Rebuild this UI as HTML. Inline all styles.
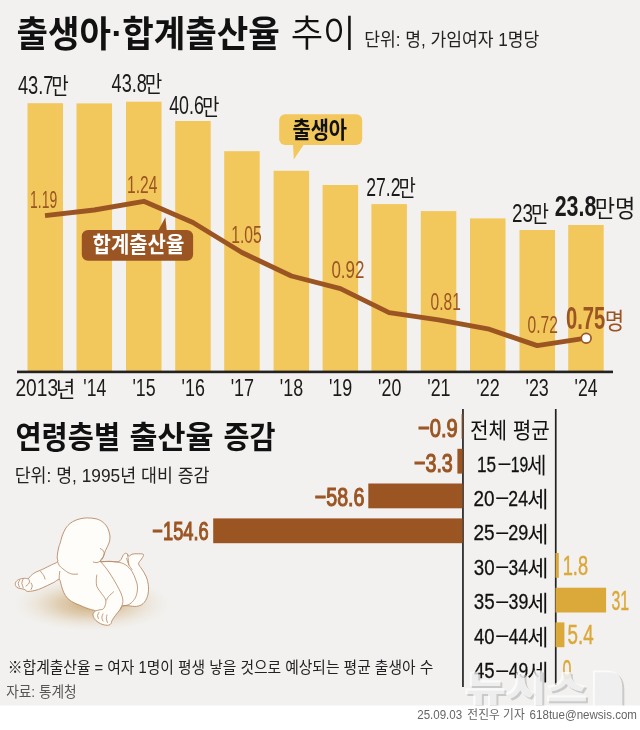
<!DOCTYPE html>
<html lang="ko">
<head>
<meta charset="utf-8">
<title>출생아·합계출산율 추이</title>
<style>
html,body{margin:0;padding:0;background:#f2f1ef;}
body{width:640px;height:730px;overflow:hidden;font-family:"Liberation Sans","Noto Sans CJK KR",sans-serif;}
svg{display:block;}
</style>
</head>
<body>
<svg width="640" height="730" viewBox="0 0 640 730">
<rect x="0" y="0" width="640" height="730" fill="#f2f1ef"/>
<rect x="27.5" y="103.2" width="35.5" height="268.3" fill="#f2c75c"/>
<rect x="76.5" y="103.4" width="35.5" height="268.1" fill="#f2c75c"/>
<rect x="126" y="101.7" width="35.5" height="269.8" fill="#f2c75c"/>
<rect x="175.2" y="121.0" width="35.5" height="250.5" fill="#f2c75c"/>
<rect x="224.2" y="151.2" width="35.5" height="220.3" fill="#f2c75c"/>
<rect x="273.6" y="170.8" width="35.5" height="200.7" fill="#f2c75c"/>
<rect x="322.6" y="185" width="35.5" height="186.5" fill="#f2c75c"/>
<rect x="371.4" y="204.1" width="35.5" height="167.4" fill="#f2c75c"/>
<rect x="420.8" y="211.1" width="35.5" height="160.4" fill="#f2c75c"/>
<rect x="470" y="218.4" width="35.5" height="153.1" fill="#f2c75c"/>
<rect x="519.5" y="230" width="35.5" height="141.5" fill="#f2c75c"/>
<rect x="568.2" y="225" width="35.5" height="146.5" fill="#f2c75c"/>
<rect x="17" y="370.6" width="596" height="2.6" fill="#222"/>
<rect x="279.2" y="114.2" width="83" height="30.8" rx="6" fill="#f2c75c"/>
<path d="M293 144 L304.2 144 L293.8 159.6 Z" fill="#f2c75c"/>
<polyline fill="none" stroke="#9b5523" stroke-width="4.9" stroke-linejoin="round" stroke-linecap="butt" points="45.0,215.6 94.2,210.0 143.8,201.3 192.9,222.5 241.9,252.5 291.4,276.0 340.4,288.6 389.1,312.6 438.6,319.8 487.8,328.8 537.2,345.6 586.0,338.2"/>
<circle cx="586.2" cy="338.2" r="4.9" fill="#fff" stroke="#9b5523" stroke-width="1.7"/>
<rect x="81.8" y="230" width="111.3" height="30.8" rx="6.2" fill="#9b5523"/>
<path d="M158 231 L166.8 231 L165.4 217.2 Z" fill="#9b5523"/>
<rect x="462.1" y="409" width="1.7" height="278" fill="#222"/>
<rect x="554.9" y="409" width="1.7" height="276" fill="#222"/>
<rect x="461.6" y="414" width="1.0" height="24.8" fill="#9b5523"/>
<rect x="457.4" y="448.8" width="5.2" height="24.8" fill="#9b5523"/>
<rect x="368.3" y="483.5" width="94.3" height="24.8" fill="#9b5523"/>
<rect x="213.2" y="518.4" width="249.4" height="24.8" fill="#9b5523"/>
<rect x="555.5" y="553" width="3.3" height="24.8" fill="#dba83a"/>
<rect x="555.5" y="587.7" width="50.6" height="24.8" fill="#dba83a"/>
<rect x="555.5" y="622.4" width="8.9" height="24.8" fill="#dba83a"/>
<defs><radialGradient id="shd" cx="0.5" cy="0.5" r="0.5"><stop offset="0" stop-color="#c39a5e" stop-opacity="0.85"/><stop offset="0.45" stop-color="#cfae7c" stop-opacity="0.5"/><stop offset="1" stop-color="#e6d9c4" stop-opacity="0"/></radialGradient></defs>
<ellipse cx="92" cy="604" rx="78" ry="27" fill="url(#shd)"/>
<path d="M87.3 517.9C89.8 517.9 93.5 518.2 96.0 518.8C98.5 519.4 100.2 520.3 102.0 521.5C103.8 522.7 105.3 524.4 106.5 526.0C107.7 527.6 108.3 529.6 108.9 531.4C109.5 533.2 110.0 535.1 110.0 537.0C110.0 538.9 109.8 540.8 109.0 543.0C108.2 545.2 106.4 548.3 105.5 550.5C104.6 552.7 104.3 554.2 103.5 556.0C102.7 557.8 99.6 560.6 100.5 561.5C101.4 562.4 106.1 561.2 109.0 561.3C111.9 561.3 115.8 562.1 117.8 561.8C119.8 561.5 120.1 560.5 121.0 559.5C121.9 558.5 122.3 556.5 123.0 555.5C123.7 554.5 124.5 553.5 125.2 553.3C126.0 553.1 126.9 553.7 127.5 554.2C128.1 554.7 128.2 556.2 129.0 556.2C129.8 556.2 130.7 554.6 132.0 554.2C133.3 553.8 135.1 553.8 137.0 553.8C138.9 553.8 142.8 553.6 143.5 554.5C144.2 555.4 142.3 557.5 141.5 559.0C140.7 560.5 138.5 562.1 138.6 563.8C138.7 565.5 140.6 567.0 141.9 569.2C143.2 571.4 145.2 574.0 146.3 576.9C147.4 579.8 148.3 583.4 148.5 586.7C148.7 590.0 148.3 593.8 147.4 596.6C146.5 599.4 144.8 602.1 143.0 603.7C141.2 605.3 138.8 606.0 136.4 606.4C134.0 606.8 131.1 605.9 128.8 605.8C126.5 605.7 124.2 605.2 122.7 605.9C121.2 606.5 121.2 608.2 120.0 609.7C118.8 611.2 116.9 613.4 115.6 615.2C114.3 617.0 112.8 619.2 112.0 620.6C111.2 622.0 111.6 622.8 111.0 623.6C110.4 624.4 109.8 625.0 108.5 625.2C107.2 625.4 104.7 625.1 103.0 624.6C101.3 624.1 99.5 623.3 98.1 622.3C96.6 621.3 95.1 619.9 94.3 618.5C93.5 617.1 92.9 615.4 93.0 614.1C93.1 612.8 95.2 611.5 95.0 610.8C94.8 610.1 93.3 610.2 91.6 609.7C89.9 609.2 87.1 608.3 85.0 607.5C82.9 606.7 80.7 605.6 79.0 604.9C77.3 604.2 76.4 604.1 74.6 603.1C72.8 602.1 69.8 600.6 68.0 598.8C66.2 597.0 64.7 594.4 63.6 592.2C62.5 590.0 62.1 587.7 61.4 585.6C60.7 583.5 60.5 580.1 59.2 579.6C57.9 579.1 55.8 581.4 53.8 582.4C51.8 583.4 49.8 584.4 47.2 585.6C44.6 586.8 41.0 588.6 38.4 589.5C35.8 590.4 33.8 590.8 31.9 591.1C30.0 591.4 27.9 591.5 26.8 591.3C25.7 591.0 26.0 590.0 25.0 589.6C24.0 589.2 22.3 589.0 20.9 588.6C19.5 588.2 17.7 588.2 16.8 587.3C15.9 586.4 15.0 584.5 15.3 583.2C15.6 581.9 17.0 580.4 18.5 579.6C20.0 578.8 22.6 578.5 24.2 578.3C25.8 578.1 27.1 579.0 28.2 578.6C29.3 578.2 29.6 576.8 30.8 575.8C32.0 574.8 33.2 573.6 35.2 572.5C37.2 571.4 40.1 570.5 42.8 569.2C45.5 567.9 49.1 566.0 51.6 564.8C54.1 563.6 56.7 562.9 57.6 561.8C58.5 560.7 57.2 559.5 57.2 558.0C57.2 556.5 57.3 554.8 57.6 553.0C57.9 551.2 58.4 548.7 58.8 547.0C59.2 545.3 59.6 545.0 60.2 543.0C60.8 541.0 61.5 537.5 62.5 535.0C63.5 532.5 64.7 529.9 65.9 528.0C67.2 526.1 68.5 524.8 70.0 523.5C71.5 522.2 73.2 521.3 75.0 520.5C76.8 519.7 79.0 519.0 81.0 518.6C83.0 518.2 84.8 517.9 87.3 517.9Z" fill="#fffdf9" stroke="#b88a68" stroke-width="0.9" stroke-linejoin="round"/>
<path d="M57.6 561.8C57.8 562.3 58.4 564.0 59.0 565.0C59.6 566.0 59.9 566.4 61.4 567.6C62.9 568.9 66.1 571.4 68.0 572.5C69.9 573.6 71.4 574.0 73.0 574.2C74.6 574.5 76.8 574.0 77.6 574.0" fill="none" stroke="#b88a68" stroke-width="0.85" stroke-linecap="round"/>
<path d="M59.8 571.4C59.7 572.1 59.4 574.1 59.3 575.5C59.2 576.9 59.2 578.9 59.2 579.6" fill="none" stroke="#b88a68" stroke-width="0.85" stroke-linecap="round"/>
<path d="M40.6 571.4C41.1 572.1 43.2 574.5 43.9 575.8C44.6 577.1 44.8 578.5 45.0 579.1" fill="none" stroke="#b88a68" stroke-width="0.85" stroke-linecap="round"/>
<path d="M100.3 548.6C100.8 548.9 102.6 549.7 103.3 550.6C104.0 551.5 104.3 552.8 104.2 554.0C104.1 555.2 103.4 556.9 102.8 558.0C102.2 559.1 101.5 560.1 100.5 560.9C99.5 561.7 98.2 562.4 97.0 562.6C95.8 562.8 93.9 562.1 93.3 562.0" fill="none" stroke="#b88a68" stroke-width="0.85" stroke-linecap="round"/>
<path d="M100.5 561.6C101.9 561.6 106.1 561.4 109.0 561.5C111.9 561.6 115.0 561.6 117.8 562.1C120.5 562.6 123.1 563.2 125.5 564.8C127.9 566.3 130.3 568.8 132.0 571.4C133.7 574.0 135.0 577.5 135.9 580.2C136.8 582.9 137.5 585.1 137.5 587.8C137.5 590.5 137.0 594.0 135.9 596.6C134.8 599.2 132.6 601.7 131.0 603.1C129.4 604.5 128.0 604.8 126.6 605.3C125.2 605.8 123.3 605.8 122.7 605.9" fill="none" stroke="#b88a68" stroke-width="0.85" stroke-linecap="round"/>
<path d="M100.5 561.6C101.6 562.9 104.8 566.3 106.9 569.2C109.1 572.1 111.4 575.8 113.4 579.1C115.4 582.4 117.4 586.0 118.9 588.9C120.4 591.8 121.6 594.2 122.2 596.6C122.8 599.0 123.1 600.9 122.7 603.1C122.3 605.3 120.5 608.6 120.0 609.7" fill="none" stroke="#b88a68" stroke-width="0.85" stroke-linecap="round"/>
<path d="M96.8 575.0C96.7 575.9 96.3 578.2 96.3 580.2C96.3 582.2 96.2 584.5 97.0 586.7C97.8 588.9 100.0 591.3 101.4 593.3C102.8 595.3 104.5 597.2 105.2 598.8C105.9 600.4 106.1 601.5 105.8 603.1C105.5 604.7 104.6 607.5 103.6 608.6C102.6 609.7 101.4 609.4 100.0 609.8C98.6 610.2 96.2 610.6 95.4 610.8" fill="none" stroke="#b88a68" stroke-width="0.85" stroke-linecap="round"/>
<path d="M113.6 591.8C112.8 592.6 109.7 595.2 108.5 596.6C107.3 598.0 106.9 599.4 106.6 600.0" fill="none" stroke="#b88a68" stroke-width="0.85" stroke-linecap="round"/>
<path d="M127.5 554.2C127.6 555.0 128.0 557.2 128.2 559.0C128.4 560.8 128.7 563.8 128.8 564.8" fill="none" stroke="#b88a68" stroke-width="0.85" stroke-linecap="round"/>
<path d="M126.6 558.3C127.0 559.4 127.9 562.9 128.8 564.8C129.7 566.7 131.5 568.7 132.0 569.5" fill="none" stroke="#b88a68" stroke-width="0.85" stroke-linecap="round"/>
<path d="M99.0 612.5C98.8 613.0 97.6 614.5 97.5 615.5C97.4 616.5 98.3 618.0 98.5 618.5" fill="none" stroke="#b88a68" stroke-width="0.85" stroke-linecap="round"/>
<path d="M103.0 614.0C102.8 614.6 101.8 616.3 101.8 617.5C101.8 618.7 102.8 620.4 103.0 621.0" fill="none" stroke="#b88a68" stroke-width="0.85" stroke-linecap="round"/>
<path d="M107.0 615.0C106.9 615.6 106.2 617.2 106.3 618.5C106.4 619.8 107.3 621.8 107.5 622.5" fill="none" stroke="#b88a68" stroke-width="0.85" stroke-linecap="round"/>
<path d="M19.5 580.5C19.3 581.0 18.2 582.4 18.2 583.5C18.2 584.6 19.3 586.4 19.5 587.0" fill="none" stroke="#b88a68" stroke-width="0.85" stroke-linecap="round"/>
<path d="M23.0 579.5C22.8 580.1 21.8 581.9 21.8 583.3C21.9 584.7 23.1 587.0 23.3 587.8" fill="none" stroke="#b88a68" stroke-width="0.85" stroke-linecap="round"/>
<path d="M28.2 578.6C28.4 579.0 29.4 580.1 29.5 581.0C29.6 581.9 29.1 583.2 28.5 584.0C27.9 584.8 26.4 585.7 26.0 586.0" fill="none" stroke="#b88a68" stroke-width="0.85" stroke-linecap="round"/>
<path d="M31.0 583.0C31.2 583.5 32.3 584.9 32.3 586.0C32.3 587.1 31.2 588.9 31.0 589.5" fill="none" stroke="#b88a68" stroke-width="0.85" stroke-linecap="round"/>
<text transform="translate(16.40 46.91) scale(0.9389 1)" font-size="36.46" font-weight="700" fill="#111" font-family='"Liberation Sans", "Noto Sans CJK KR", sans-serif'>출생아</text>
<text transform="translate(111.46 44.57) scale(1.0435 1)" font-size="32.67" font-weight="700" fill="#111" font-family='"Liberation Sans", "Noto Sans CJK KR", sans-serif'>·</text>
<text transform="translate(122.15 46.93) scale(0.9467 1)" font-size="36.21" font-weight="700" fill="#111" font-family='"Liberation Sans", "Noto Sans CJK KR", sans-serif'>합계출산율</text>
<text transform="translate(290.64 47.29) scale(0.9420 1)" font-size="37.46" font-weight="350" fill="#111" font-family='"Liberation Sans", "Noto Sans CJK KR", sans-serif'>추이</text>
<text transform="translate(364.19 46.21) scale(0.9368 1)" font-size="18.30" font-weight="400" fill="#222" font-family='"Liberation Sans", "Noto Sans CJK KR", sans-serif'>단위: 명, 가임여자 1명당</text>
<text transform="translate(17.94 93.77) scale(0.7025 1)" font-size="26.05" font-weight="400" fill="#1a1a1a" font-family='"Liberation Sans", "Noto Sans CJK KR", sans-serif'>43.7</text>
<text transform="translate(51.34 94.07) scale(0.8324 1)" font-size="22.83" font-weight="400" fill="#1a1a1a" font-family='"Liberation Sans", "Noto Sans CJK KR", sans-serif'>만</text>
<text transform="translate(111.55 91.97) scale(0.6960 1)" font-size="26.05" font-weight="400" fill="#1a1a1a" font-family='"Liberation Sans", "Noto Sans CJK KR", sans-serif'>43.8</text>
<text transform="translate(144.84 92.17) scale(0.8324 1)" font-size="22.83" font-weight="400" fill="#1a1a1a" font-family='"Liberation Sans", "Noto Sans CJK KR", sans-serif'>만</text>
<text transform="translate(169.15 114.47) scale(0.6837 1)" font-size="26.05" font-weight="400" fill="#1a1a1a" font-family='"Liberation Sans", "Noto Sans CJK KR", sans-serif'>40.6</text>
<text transform="translate(202.04 114.67) scale(0.8324 1)" font-size="22.83" font-weight="400" fill="#1a1a1a" font-family='"Liberation Sans", "Noto Sans CJK KR", sans-serif'>만</text>
<text transform="translate(366.22 196.00) scale(0.6646 1)" font-size="26.52" font-weight="400" fill="#1a1a1a" font-family='"Liberation Sans", "Noto Sans CJK KR", sans-serif'>27.2</text>
<text transform="translate(398.55 196.27) scale(0.8269 1)" font-size="22.83" font-weight="400" fill="#1a1a1a" font-family='"Liberation Sans", "Noto Sans CJK KR", sans-serif'>만</text>
<text transform="translate(511.96 221.67) scale(0.7234 1)" font-size="26.05" font-weight="400" fill="#1a1a1a" font-family='"Liberation Sans", "Noto Sans CJK KR", sans-serif'>23</text>
<text transform="translate(530.99 221.97) scale(0.8543 1)" font-size="22.83" font-weight="400" fill="#1a1a1a" font-family='"Liberation Sans", "Noto Sans CJK KR", sans-serif'>만</text>
<text transform="translate(554.70 216.34) scale(0.7490 1)" font-size="28.60" font-weight="700" fill="#1a1a1a" font-family='"Liberation Sans", "Noto Sans CJK KR", sans-serif'>23.8</text>
<text transform="translate(594.77 216.64) scale(0.9390 1)" font-size="23.50" font-weight="400" fill="#1a1a1a" font-family='"Liberation Sans", "Noto Sans CJK KR", sans-serif'>만명</text>
<text transform="translate(30.10 207.55) scale(0.5897 1)" font-size="23.65" font-weight="400" fill="#9b5523" font-family='"Liberation Sans", "Noto Sans CJK KR", sans-serif'>1.19</text>
<text transform="translate(127.03 192.90) scale(0.6489 1)" font-size="24.07" font-weight="400" fill="#9b5523" font-family='"Liberation Sans", "Noto Sans CJK KR", sans-serif'>1.24</text>
<text transform="translate(231.23 242.60) scale(0.6605 1)" font-size="23.65" font-weight="400" fill="#9b5523" font-family='"Liberation Sans", "Noto Sans CJK KR", sans-serif'>1.05</text>
<text transform="translate(331.47 278.40) scale(0.7154 1)" font-size="23.65" font-weight="400" fill="#9b5523" font-family='"Liberation Sans", "Noto Sans CJK KR", sans-serif'>0.92</text>
<text transform="translate(430.62 309.60) scale(0.6585 1)" font-size="23.65" font-weight="400" fill="#9b5523" font-family='"Liberation Sans", "Noto Sans CJK KR", sans-serif'>0.81</text>
<text transform="translate(527.57 333.30) scale(0.6596 1)" font-size="23.65" font-weight="400" fill="#9b5523" font-family='"Liberation Sans", "Noto Sans CJK KR", sans-serif'>0.72</text>
<text transform="translate(565.89 329.32) scale(0.6629 1)" font-size="30.51" font-weight="700" fill="#9b5523" font-family='"Liberation Sans", "Noto Sans CJK KR", sans-serif'>0.75</text>
<text transform="translate(604.72 329.28) scale(0.9212 1)" font-size="22.95" font-weight="400" fill="#9b5523" font-family='"Liberation Sans", "Noto Sans CJK KR", sans-serif'>명</text>
<text transform="translate(15.44 396.11) scale(0.8274 1)" font-size="23.22" font-weight="400" fill="#1a1a1a" font-family='"Liberation Sans", "Noto Sans CJK KR", sans-serif'>2013</text>
<text transform="translate(55.66 396.94) scale(0.9820 1)" font-size="21.82" font-weight="400" fill="#1a1a1a" font-family='"Liberation Sans", "Noto Sans CJK KR", sans-serif'>년</text>
<text transform="translate(83.32 396.40) scale(0.7392 1)" font-size="23.85" font-weight="400" fill="#1a1a1a" font-family='"Liberation Sans", "Noto Sans CJK KR", sans-serif'>'14</text>
<text transform="translate(132.44 396.40) scale(0.7468 1)" font-size="23.85" font-weight="400" fill="#1a1a1a" font-family='"Liberation Sans", "Noto Sans CJK KR", sans-serif'>'15</text>
<text transform="translate(181.56 396.40) scale(0.7507 1)" font-size="23.85" font-weight="400" fill="#1a1a1a" font-family='"Liberation Sans", "Noto Sans CJK KR", sans-serif'>'16</text>
<text transform="translate(230.69 396.40) scale(0.7546 1)" font-size="23.85" font-weight="400" fill="#1a1a1a" font-family='"Liberation Sans", "Noto Sans CJK KR", sans-serif'>'17</text>
<text transform="translate(279.82 396.40) scale(0.7507 1)" font-size="23.85" font-weight="400" fill="#1a1a1a" font-family='"Liberation Sans", "Noto Sans CJK KR", sans-serif'>'18</text>
<text transform="translate(328.95 396.40) scale(0.7507 1)" font-size="23.85" font-weight="400" fill="#1a1a1a" font-family='"Liberation Sans", "Noto Sans CJK KR", sans-serif'>'19</text>
<text transform="translate(378.09 396.40) scale(0.7468 1)" font-size="23.85" font-weight="400" fill="#1a1a1a" font-family='"Liberation Sans", "Noto Sans CJK KR", sans-serif'>'20</text>
<text transform="translate(427.21 396.40) scale(0.7507 1)" font-size="23.85" font-weight="400" fill="#1a1a1a" font-family='"Liberation Sans", "Noto Sans CJK KR", sans-serif'>'21</text>
<text transform="translate(476.34 396.40) scale(0.7546 1)" font-size="23.85" font-weight="400" fill="#1a1a1a" font-family='"Liberation Sans", "Noto Sans CJK KR", sans-serif'>'22</text>
<text transform="translate(525.47 396.40) scale(0.7507 1)" font-size="23.85" font-weight="400" fill="#1a1a1a" font-family='"Liberation Sans", "Noto Sans CJK KR", sans-serif'>'23</text>
<text transform="translate(574.62 396.40) scale(0.7392 1)" font-size="23.85" font-weight="400" fill="#1a1a1a" font-family='"Liberation Sans", "Noto Sans CJK KR", sans-serif'>'24</text>
<text transform="translate(292.43 137.54) scale(0.8854 1)" font-size="22.39" font-weight="700" fill="#111" font-family='"Liberation Sans", "Noto Sans CJK KR", sans-serif'>출생아</text>
<text transform="translate(92.58 252.11) scale(0.9216 1)" font-size="21.65" font-weight="700" fill="#fff" font-family='"Liberation Sans", "Noto Sans CJK KR", sans-serif'>합계출산율</text>
<text transform="translate(15.48 448.34) scale(0.9317 1)" font-size="30.51" font-weight="700" fill="#111" font-family='"Liberation Sans", "Noto Sans CJK KR", sans-serif'>연령층별</text>
<text transform="translate(129.47 448.34) scale(0.9987 1)" font-size="30.51" font-weight="700" fill="#111" font-family='"Liberation Sans", "Noto Sans CJK KR", sans-serif'>출산율</text>
<text transform="translate(223.54 448.34) scale(0.9271 1)" font-size="30.51" font-weight="700" fill="#111" font-family='"Liberation Sans", "Noto Sans CJK KR", sans-serif'>증감</text>
<text transform="translate(14.68 481.88) scale(0.9248 1)" font-size="18.74" font-weight="400" fill="#222" font-family='"Liberation Sans", "Noto Sans CJK KR", sans-serif'>단위: 명, 1995년 대비 증감</text>
<text transform="translate(470.01 438.35) scale(0.9348 1)" font-size="21.59" font-weight="400" fill="#111" font-family='"Liberation Sans", "Noto Sans CJK KR", sans-serif'>전체 평균</text>
<text transform="translate(477.06 471.58) scale(0.7873 1)" font-size="21.86" font-weight="400" fill="#111" stroke="#111" stroke-width="0.3" font-family='"Liberation Sans", "Noto Sans CJK KR", sans-serif'>15</text>
<text transform="translate(498.50 470.01) scale(0.8652 1)" font-size="24.73" font-weight="400" fill="#111" font-family='"Liberation Sans", "Noto Sans CJK KR", sans-serif'>–</text>
<text transform="translate(510.77 471.58) scale(0.7245 1)" font-size="21.66" font-weight="400" fill="#111" stroke="#111" stroke-width="0.3" font-family='"Liberation Sans", "Noto Sans CJK KR", sans-serif'>19</text>
<text transform="translate(526.66 472.80) scale(0.9734 1)" font-size="22.14" font-weight="400" fill="#111" font-family='"Liberation Sans", "Noto Sans CJK KR", sans-serif'>세</text>
<text transform="translate(473.50 506.03) scale(0.8737 1)" font-size="21.66" font-weight="400" fill="#111" stroke="#111" stroke-width="0.3" font-family='"Liberation Sans", "Noto Sans CJK KR", sans-serif'>20</text>
<text transform="translate(496.15 504.46) scale(0.8688 1)" font-size="24.73" font-weight="400" fill="#111" font-family='"Liberation Sans", "Noto Sans CJK KR", sans-serif'>–</text>
<text transform="translate(508.37 506.30) scale(0.8002 1)" font-size="22.05" font-weight="400" fill="#111" stroke="#111" stroke-width="0.3" font-family='"Liberation Sans", "Noto Sans CJK KR", sans-serif'>24</text>
<text transform="translate(527.19 507.25) scale(1.0434 1)" font-size="22.14" font-weight="400" fill="#111" font-family='"Liberation Sans", "Noto Sans CJK KR", sans-serif'>세</text>
<text transform="translate(473.50 540.48) scale(0.8790 1)" font-size="21.66" font-weight="400" fill="#111" stroke="#111" stroke-width="0.3" font-family='"Liberation Sans", "Noto Sans CJK KR", sans-serif'>25</text>
<text transform="translate(496.15 538.91) scale(0.8688 1)" font-size="24.73" font-weight="400" fill="#111" font-family='"Liberation Sans", "Noto Sans CJK KR", sans-serif'>–</text>
<text transform="translate(508.35 540.48) scale(0.8297 1)" font-size="21.66" font-weight="400" fill="#111" stroke="#111" stroke-width="0.3" font-family='"Liberation Sans", "Noto Sans CJK KR", sans-serif'>29</text>
<text transform="translate(527.19 541.70) scale(1.0434 1)" font-size="22.14" font-weight="400" fill="#111" font-family='"Liberation Sans", "Noto Sans CJK KR", sans-serif'>세</text>
<text transform="translate(473.75 574.93) scale(0.8631 1)" font-size="21.66" font-weight="400" fill="#111" stroke="#111" stroke-width="0.3" font-family='"Liberation Sans", "Noto Sans CJK KR", sans-serif'>30</text>
<text transform="translate(496.15 573.36) scale(0.8688 1)" font-size="24.73" font-weight="400" fill="#111" font-family='"Liberation Sans", "Noto Sans CJK KR", sans-serif'>–</text>
<text transform="translate(508.60 574.93) scale(0.8049 1)" font-size="21.66" font-weight="400" fill="#111" stroke="#111" stroke-width="0.3" font-family='"Liberation Sans", "Noto Sans CJK KR", sans-serif'>34</text>
<text transform="translate(527.19 576.15) scale(1.0434 1)" font-size="22.14" font-weight="400" fill="#111" font-family='"Liberation Sans", "Noto Sans CJK KR", sans-serif'>세</text>
<text transform="translate(473.74 609.38) scale(0.8684 1)" font-size="21.66" font-weight="400" fill="#111" stroke="#111" stroke-width="0.3" font-family='"Liberation Sans", "Noto Sans CJK KR", sans-serif'>35</text>
<text transform="translate(496.15 607.81) scale(0.8688 1)" font-size="24.73" font-weight="400" fill="#111" font-family='"Liberation Sans", "Noto Sans CJK KR", sans-serif'>–</text>
<text transform="translate(508.58 609.38) scale(0.8196 1)" font-size="21.66" font-weight="400" fill="#111" stroke="#111" stroke-width="0.3" font-family='"Liberation Sans", "Noto Sans CJK KR", sans-serif'>39</text>
<text transform="translate(527.19 610.60) scale(1.0434 1)" font-size="22.14" font-weight="400" fill="#111" font-family='"Liberation Sans", "Noto Sans CJK KR", sans-serif'>세</text>
<text transform="translate(473.99 643.83) scale(0.8529 1)" font-size="21.66" font-weight="400" fill="#111" stroke="#111" stroke-width="0.3" font-family='"Liberation Sans", "Noto Sans CJK KR", sans-serif'>40</text>
<text transform="translate(496.15 642.26) scale(0.8688 1)" font-size="24.73" font-weight="400" fill="#111" font-family='"Liberation Sans", "Noto Sans CJK KR", sans-serif'>–</text>
<text transform="translate(508.82 644.10) scale(0.7743 1)" font-size="22.25" font-weight="400" fill="#111" stroke="#111" stroke-width="0.3" font-family='"Liberation Sans", "Noto Sans CJK KR", sans-serif'>44</text>
<text transform="translate(527.19 645.05) scale(1.0434 1)" font-size="22.14" font-weight="400" fill="#111" font-family='"Liberation Sans", "Noto Sans CJK KR", sans-serif'>세</text>
<text transform="translate(473.99 678.28) scale(0.8504 1)" font-size="21.86" font-weight="400" fill="#111" stroke="#111" stroke-width="0.3" font-family='"Liberation Sans", "Noto Sans CJK KR", sans-serif'>45</text>
<text transform="translate(496.15 676.71) scale(0.8688 1)" font-size="24.73" font-weight="400" fill="#111" font-family='"Liberation Sans", "Noto Sans CJK KR", sans-serif'>–</text>
<text transform="translate(508.81 678.28) scale(0.8097 1)" font-size="21.66" font-weight="400" fill="#111" stroke="#111" stroke-width="0.3" font-family='"Liberation Sans", "Noto Sans CJK KR", sans-serif'>49</text>
<text transform="translate(527.19 679.50) scale(1.0434 1)" font-size="22.14" font-weight="400" fill="#111" font-family='"Liberation Sans", "Noto Sans CJK KR", sans-serif'>세</text>
<text transform="translate(417.97 436.69) scale(0.7634 1)" font-size="26.41" font-weight="400" fill="#9b5523" stroke="#9b5523" stroke-width="1.15" font-family='"Liberation Sans", "Noto Sans CJK KR", sans-serif'>−0.9</text>
<text transform="translate(413.89 471.99) scale(0.7478 1)" font-size="26.41" font-weight="400" fill="#9b5523" stroke="#9b5523" stroke-width="1.15" font-family='"Liberation Sans", "Noto Sans CJK KR", sans-serif'>−3.3</text>
<text transform="translate(314.79 505.59) scale(0.7434 1)" font-size="26.41" font-weight="400" fill="#9b5523" stroke="#9b5523" stroke-width="1.15" font-family='"Liberation Sans", "Noto Sans CJK KR", sans-serif'>−58.6</text>
<text transform="translate(152.36 540.09) scale(0.6913 1)" font-size="26.41" font-weight="400" fill="#9b5523" stroke="#9b5523" stroke-width="1.15" font-family='"Liberation Sans", "Noto Sans CJK KR", sans-serif'>−154.6</text>
<text transform="translate(562.66 575.34) scale(0.6729 1)" font-size="27.12" font-weight="400" fill="#dba83a" stroke="#dba83a" stroke-width="0.45" font-family='"Liberation Sans", "Noto Sans CJK KR", sans-serif'>1.8</text>
<text transform="translate(611.53 609.74) scale(0.5847 1)" font-size="27.12" font-weight="400" fill="#dba83a" stroke="#dba83a" stroke-width="0.45" font-family='"Liberation Sans", "Noto Sans CJK KR", sans-serif'>31</text>
<text transform="translate(567.60 644.43) scale(0.6860 1)" font-size="27.36" font-weight="400" fill="#dba83a" stroke="#dba83a" stroke-width="0.45" font-family='"Liberation Sans", "Noto Sans CJK KR", sans-serif'>5.4</text>
<text transform="translate(562.42 678.64) scale(0.5939 1)" font-size="27.12" font-weight="400" fill="#dba83a" stroke="#dba83a" stroke-width="0.45" font-family='"Liberation Sans", "Noto Sans CJK KR", sans-serif'>0</text>
<text transform="translate(7.87 673.30) scale(0.9232 1)" font-size="16.00" font-weight="400" fill="#222" font-family='"Liberation Sans", "Noto Sans CJK KR", sans-serif'>※합계출산율 = 여자 1명이 평생 낳을 것으로 예상되는 평균 출생아 수</text>
<text transform="translate(6.14 697.08) scale(0.9126 1)" font-size="15.02" font-weight="400" fill="#555" font-family='"Liberation Sans", "Noto Sans CJK KR", sans-serif'>자료: 통계청</text>
<path d="M594.8 672.3 H608 Q624.3 672.3 624.3 690 V706 H594.8 Z" fill="#b0b0b0" opacity="0.6"/>
<text transform="translate(466.44 702.87) scale(1.2506 1)" font-size="35.50" font-weight="900" fill="#b0b0b0" stroke="#b0b0b0" stroke-width="1.0" opacity="0.6" font-family='"Liberation Sans", "Noto Sans CJK KR", sans-serif'>뉴시스</text>
<path d="M592.8 670.5 H606 Q622.3 670.5 622.3 688 V706 H592.8 Z" fill="#ffffff" opacity="0.7"/>
<text transform="translate(464.44 701.07) scale(1.2506 1)" font-size="35.50" font-weight="900" fill="#ffffff" stroke="#ffffff" stroke-width="1.0" opacity="0.7" font-family='"Liberation Sans", "Noto Sans CJK KR", sans-serif'>뉴시스</text>
<rect x="0" y="705.5" width="640" height="25" fill="#ffffff"/>
<text transform="translate(417.22 718.69) scale(0.8869 1)" font-size="13.03" font-weight="400" fill="#666" font-family='"Liberation Sans", "Noto Sans CJK KR", sans-serif'>25.09.03</text>
<text transform="translate(467.34 719.09) scale(0.9518 1)" font-size="12.38" font-weight="400" fill="#666" font-family='"Liberation Sans", "Noto Sans CJK KR", sans-serif'>전진우 기자</text>
<text transform="translate(529.62 718.68) scale(0.8550 1)" font-size="13.52" font-weight="400" fill="#666" font-family='"Liberation Sans", "Noto Sans CJK KR", sans-serif'>618tue@newsis.com</text>
</svg>
</body>
</html>
